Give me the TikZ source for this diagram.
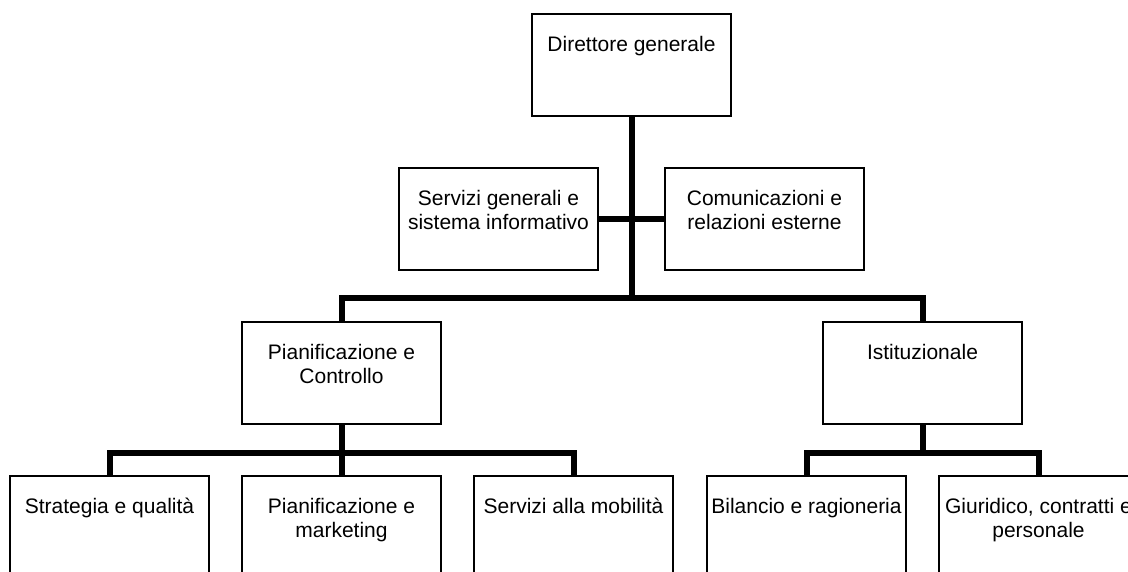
\documentclass[tikz,border=0pt]{standalone}
\usepackage{fontspec}
\setmainfont{Liberation Sans}
\newcommand{\orgtext}[1]{\parbox[c][102pt][t]{197pt}{\centering\fontsize{21}{24}\selectfont\rule{0pt}{37pt}#1}}
\begin{document}
\begin{tikzpicture}[x=1pt,y=-1pt,
  orgbox/.style={draw=black, line width=1.3pt, fill=white, inner sep=0pt,
    minimum width=199pt, minimum height=102pt},
  conn/.style={draw=black, line width=6pt}]
\useasboundingbox (0,0) rectangle (1128,571);
% connectors first (behind boxes)
\coordinate (j1) at (631.5,298);
\coordinate (j2) at (341.5,453);
\coordinate (j3) at (922.5,453);
% boxes
\node[orgbox] (dg) at (631.5,65) {\orgtext{Direttore generale}};
\node[orgbox] (sg) at (498.5,219) {\orgtext{Servizi generali e\\sistema informativo}};
\node[orgbox] (cr) at (764.5,219) {\orgtext{Comunicazioni e\\relazioni esterne}};
\node[orgbox] (pc) at (341.5,373) {\orgtext{Pianificazione e\\Controllo}};
\node[orgbox] (is) at (922.5,373) {\orgtext{Istituzionale}};
\node[orgbox] (sq) at (109.5,527) {\orgtext{Strategia e qualità}};
\node[orgbox] (pm) at (341.5,527) {\orgtext{Pianificazione e\\marketing}};
\node[orgbox] (sm) at (573.5,527) {\orgtext{Servizi alla mobilità}};
\node[orgbox] (br) at (806.5,527) {\orgtext{Bilancio e ragioneria}};
\node[orgbox] (gc) at (1038.5,527) {\orgtext{Giuridico, contratti e\\personale}};
% connectors
\draw[conn] (dg.south) -- (j1);
\draw[conn] (sg.east) -- (cr.west);
\draw[conn] (pc.north) |- (j1) -| (is.north);
\draw[conn] (pc.south) -- (j2);
\draw[conn] (sq.north) |- (j2) -| (sm.north);
\draw[conn] (pm.north) -- (j2);
\draw[conn] (is.south) -- (j3);
\draw[conn] (br.north) |- (j3) -| (gc.north);
\end{tikzpicture}
\end{document}
